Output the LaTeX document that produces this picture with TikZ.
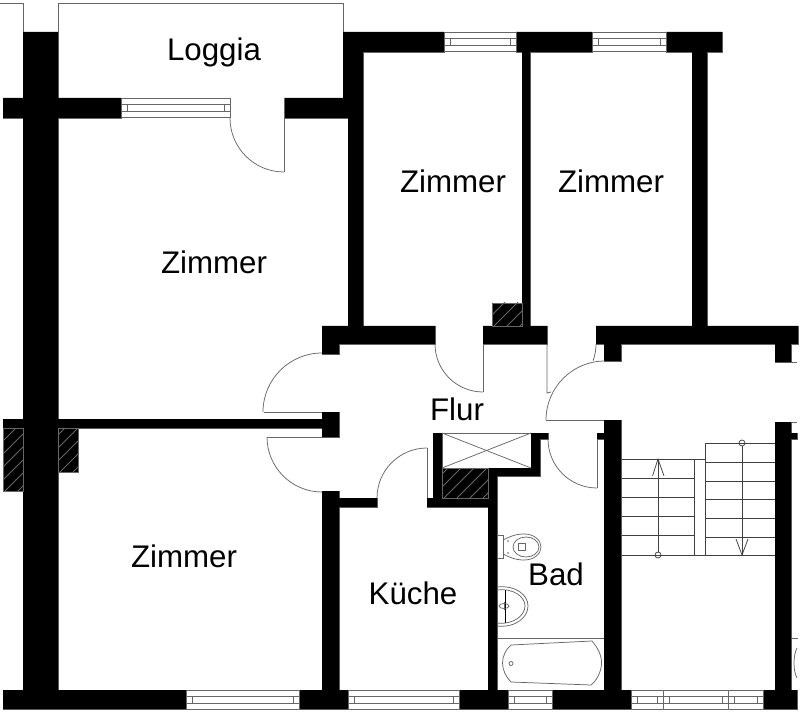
\documentclass[tikz,border=0pt]{standalone}
\usepackage{fontspec}
\setmainfont{Liberation Sans}
\definecolor{Kante}{gray}{0.4}

\newcommand{\wandpfad}{
  (23,32) rectangle (58,690)
  (3,98) rectangle (121,118)
  (284,98) rectangle (363,118)
  (343,32) rectangle (444,52)
  (343,52) rectangle (363,98)
  (348,118) rectangle (363,326)
  (516,32) rectangle (592,52)
  (666,32) rectangle (722,52)
  (522,52) rectangle (530,326)
  (692,52) rectangle (707,326)
  (322,326) rectangle (435,344)
  (322,344) rectangle (339,354)
  (483,326) rectangle (547,344)
  (596,326) rectangle (798,344)
  (604,344) rectangle (621,361)
  (775,344) rectangle (791,362)
  (3,419) rectangle (23,428)
  (58,419) rectangle (322,428)
  (322,412) rectangle (339,437)
  (322,491) rectangle (339,690)
  (339,498) rectangle (377,507)
  (427,498) rectangle (497,507)
  (433,433) rectangle (442,498)
  (442,468) rectangle (540,476)
  (531,433) rectangle (540,476)
  (531,433) rectangle (548,439)
  (488,476) rectangle (497,690)
  (597,433) rectangle (604,439)
  (604,420) rectangle (621,690)
  (775,422) rectangle (791,690)
  (791,433) rectangle (797,439)
  (3,690) rectangle (186,709)
  (299,690) rectangle (348,709)
  (459,690) rectangle (508,709)
  (552,690) rectangle (631,709)
  (763,690) rectangle (797,709)
}

\tikzset{
  raum/.style={anchor=base, font=\fontsize{17.8}{20}\selectfont},
  duenn/.style={draw=Kante, line width=0.42pt},
  stufe/.style={draw=black!75, line width=0.42pt}
}

\begin{document}
\begin{tikzpicture}[x=0.02cm, y=-0.02cm]
      \fill[white] (0,0) rectangle (800,712);
      \useasboundingbox (0,0) rectangle (800,712);

      \draw[duenn] (0,3) -- (23,3) -- (23,32);
      \draw[duenn] (58,32) -- (58,3) -- (343,3) -- (343,32);

      \draw[duenn] \wandpfad;
      \fill[black] \wandpfad;

      \foreach \xa/\ya/\xb/\yb in {3/428/23/491, 58/428/78/472, 442/468/488/498, 492/303/522/326} {
        \fill[black] (\xa,\ya) rectangle (\xb,\yb);
        \begin{scope}
          \clip (\xa,\ya) rectangle (\xb,\yb);
          \foreach \i in {0,...,8}
          \draw[duenn] (\xa-50+13*\i,\yb) -- +(70,-70);
        \end{scope}
        \draw[duenn] (\xa,\ya) rectangle (\xb,\yb);
      }

      \foreach \xa/\xb/\ya in {121/230/98, 444/516/32, 592/666/32, 186/299/690, 348/459/690, 508/552/690, 631/663/690, 663/728/690, 728/763/690} {
        \fill[white] (\xa,\ya) rectangle (\xb,\ya+19.5);
        \draw[duenn] (\xa,\ya) rectangle (\xb,\ya+19.5);
        \draw[duenn] (\xa,\ya+6.5) -- (\xb,\ya+6.5);
        \draw[duenn] (\xa,\ya+13) -- (\xb,\ya+13);
        \draw[duenn] (\xa+6,\ya+6.5) -- (\xa+6,\ya+13);
        \draw[duenn] (\xb-6,\ya+6.5) -- (\xb-6,\ya+13);
      }

      \foreach \sx/\sy/\wa/\wb/\r in {230/118/180/90/54, 322/353/270/180/59, 267/437/180/90/55, 377/498/180/270/50, 435/344/180/90/48, 605/361/270/180/59, 548/439/180/90/49, 596/344/0/20/49}
      \draw[duenn] (\sx,\sy) arc[start angle=\wa, end angle=\wb, radius=\r];

      \draw[duenn] (284,98) -- (284,172);
      \draw[duenn] (264,412) -- (322,412);
      \draw[duenn] (267,437) -- (322,437);
      \draw[duenn] (427,448) -- (427,498);
      \draw[duenn] (483,344) -- (483,392);
      \draw[duenn] (546,420) -- (604,420);
      \draw[duenn] (547,344) -- (547,393) -- (551,392);
      \draw[duenn] (597,439) -- (597,488);
      \draw[duenn] (791,362) -- (797,362);
      \draw[duenn] (791,422) -- (797,422);

      \draw[duenn] (442,433) -- (531,433);
      \draw[duenn] (442,433) -- (531,468);
      \draw[duenn] (442,468) -- (531,433);

      \foreach \y in {459,478.2,497.4,516.6,535.8,555}
      \draw[stufe] (622,\y) -- (694,\y);
      \foreach \y in {443,462,481,499.5,518,537,555}
      \draw[stufe] (705,\y) -- (775,\y);
      \draw[stufe] (694,459) -- (705,459);
      \draw[stufe] (694,555) -- (705,555);
      \draw[stufe] (694,459) -- (694,555);
      \draw[stufe] (705,443) -- (705,555);
      \draw[stufe] (658,459) -- (658,552);
      \draw[stufe] (652.5,476) -- (658,459) -- (664,476);
      \draw[stufe] (658,555) circle[radius=3];
      \draw[stufe] (742,446) -- (742,555);
      \draw[stufe] (736,539) -- (742,555) -- (748,539);
      \draw[stufe] (742,443) circle[radius=3];

      \draw[duenn] (497,638) -- (604,638);
      \draw[duenn] (511,645) -- (592,641) .. controls (598,648) and (602,656) .. (601.5,664) .. controls (601,672) and (597,680) .. (591,685) -- (511,682) .. controls (506,677) and (502.5,670) .. (502.5,663) .. controls (502.5,656) and (506,649) .. (511,645) -- cycle;
      \draw[duenn] (511,663.5) circle[radius=2];
      \draw[duenn] (791,638) -- (798,638);
      \draw[duenn] (797,648) .. controls (793,655) and (793,671) .. (797,678);

      \draw[duenn] (497,535) rectangle (503,558);
      \draw[duenn] (503,540) .. controls (509,537) and (515,534) .. (524,534) .. controls (534,534) and (541,540) .. (541,547) .. controls (541,554) and (534,560) .. (524,560) .. controls (515,560) and (509,557) .. (503,554);
      \draw[duenn] (526,547) ellipse[x radius=13, y radius=10];
      \draw[duenn] (518.5,543.5) rectangle (525,550);
      \fill[Kante] (508,541) circle[radius=0.8];
      \fill[Kante] (508,553) circle[radius=0.8];

      \draw[duenn] (497,587) .. controls (516,585) and (528,595) .. (528,606) .. controls (528,617) and (516,628) .. (497,626);
      \draw[duenn] (497,590) .. controls (514,588) and (525,597) .. (525,606) .. controls (525,615) and (514,625) .. (497,623);
      \draw[black, line width=0.5pt] (505.5,590) -- (505.5,623);
      \draw[duenn] (504,606) ellipse[x radius=5, y radius=2.5];
      \draw[duenn] (504,602) -- (504,610);

      \node[raum] at (214,60.5) (loggia) {Loggia};
      \node[raum] at (214,274) (zimmerA) {Zimmer};
      \node[raum] at (453,192.5) (zimmerB) {Zimmer};
      \node[raum] at (611,192.5) (zimmerC) {Zimmer};
      \node[raum] at (184,567) (zimmerD) {Zimmer};
      \node[raum] at (413,604) (kueche) {Küche};
      \node[raum] at (457,420) (flur) {Flur};
      \node[raum] at (556,585) (bad) {Bad};
    \end{tikzpicture}
\end{document}
